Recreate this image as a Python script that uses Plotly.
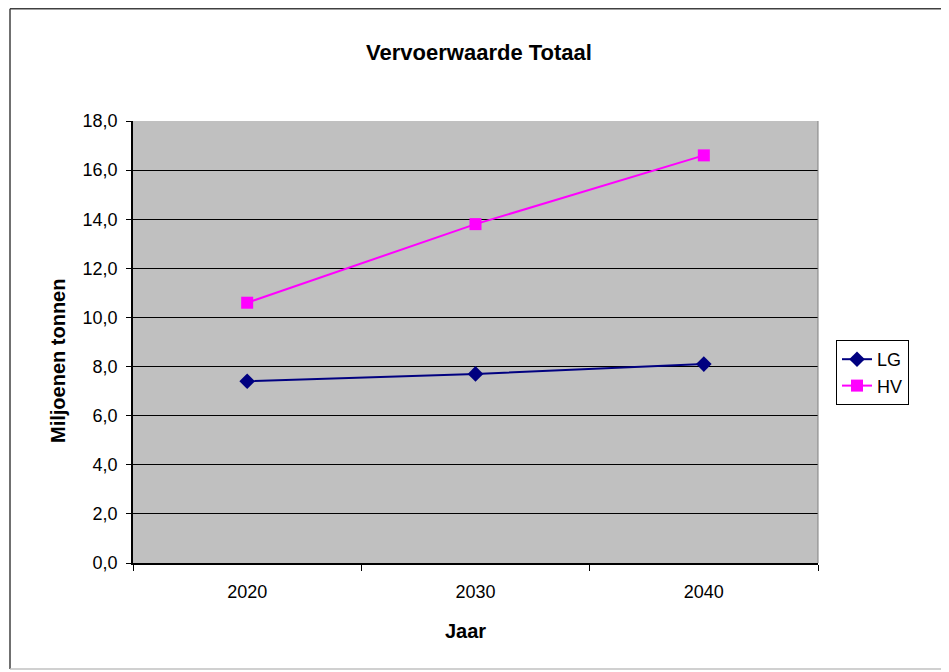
import plotly.graph_objects as go

years = ["2020", "2030", "2040"]
lg_values = [7.4, 7.7, 8.1]
hv_values = [10.6, 13.8, 16.6]
y_ticks = [0, 2, 4, 6, 8, 10, 12, 14, 16, 18]

OFF = 8  # page body margin
W, H = 949 - OFF, 672 - OFF
PL, PR, PT, PB = 133, 818, 121, 563  # plot area in screen pixels
L, T = PL - OFF, PT - OFF
R = W - (PR - OFF)
B = H - (PB - OFF)
pw, ph = PR - PL, PB - PT

def px_x(p):
    return (p - PL) / pw

def px_y(p):
    return (PB - p) / ph

fig = go.Figure()
fig.add_trace(go.Scatter(
    x=years, y=lg_values, name="LG", mode="lines+markers",
    line=dict(color="#000080", width=2),
    marker=dict(symbol="diamond", size=12, color="#000080"),
))
fig.add_trace(go.Scatter(
    x=years, y=hv_values, name="HV", mode="lines+markers",
    line=dict(color="#FF00FF", width=2),
    marker=dict(symbol="square", size=12, color="#FF00FF"),
))

font_family = "Liberation Sans, Arial, sans-serif"

fig.update_layout(
    width=W, height=H,
    margin=dict(l=L, r=R, t=T, b=B),
    paper_bgcolor="white",
    plot_bgcolor="#C0C0C0",
    separators=",.",
    font=dict(family=font_family, size=18, color="black"),
    title=dict(text="<b>Vervoerwaarde Totaal</b>", x=(479 - OFF) / W, xanchor="center",
               y=1 - (52 - OFF) / H, yanchor="middle", font=dict(size=22)),
    showlegend=True,
    legend=dict(x=px_x(836), y=px_y(340), xanchor="left", yanchor="top",
                bordercolor="black", borderwidth=1, bgcolor="white",
                font=dict(size=18), tracegroupgap=0, itemwidth=30),
    xaxis=dict(
        type="category", range=[-0.5, 2.5], tickson="boundaries",
        ticks="outside", ticklen=6, tickcolor="black",
        showline=True, linecolor="black", linewidth=1.5,
        showgrid=False, zeroline=False,
        tickfont=dict(size=18), ticklabelstandoff=12,
    ),
    yaxis=dict(
        range=[0, 18], tickvals=y_ticks, tickformat=".1f",
        ticks="outside", ticklen=5, tickcolor="black",
        showline=True, linecolor="black", linewidth=1.5,
        showgrid=True, gridcolor="black", gridwidth=1.2,
        zeroline=False,
        tickfont=dict(size=18), ticklabelstandoff=5,
    ),
    annotations=[
        dict(text="<b>Jaar</b>", xref="paper", yref="paper",
             x=px_x(465), y=px_y(631), xanchor="center", yanchor="middle",
             showarrow=False, font=dict(size=20)),
        dict(text="<b>Miljoenen tonnen</b>", xref="paper", yref="paper",
             x=px_x(58), y=px_y(361), xanchor="center", yanchor="middle",
             showarrow=False, textangle=-90, font=dict(size=20)),
    ],
)

# plot-area right border (gray)
fig.add_shape(type="line", xref="paper", yref="paper", x0=1, x1=1, y0=0, y1=1,
              line=dict(color="#808080", width=1))
# outer chart border: top, left, bottom
border = dict(color="#404040", width=1.5)
fig.add_shape(type="line", xref="paper", yref="paper",
              x0=px_x(10), x1=px_x(949), y0=px_y(OFF + 0.8), y1=px_y(OFF + 0.8), line=border)
fig.add_shape(type="line", xref="paper", yref="paper",
              x0=px_x(10), x1=px_x(10), y0=px_y(669), y1=px_y(OFF + 0.8), line=border)
fig.add_shape(type="line", xref="paper", yref="paper",
              x0=px_x(10), x1=px_x(949), y0=px_y(669), y1=px_y(669),
              line=dict(color="#C0C0C0", width=1.5))

fig.write_html("out.html")
